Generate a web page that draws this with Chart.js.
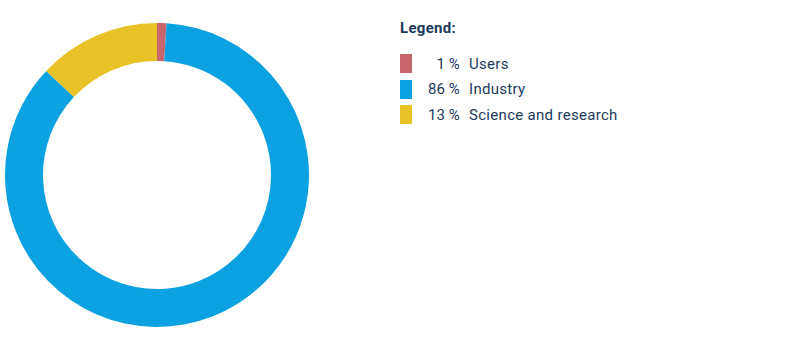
<!DOCTYPE html>
<html>
<head>
<meta charset="utf-8">
<script src="https://cdn.jsdelivr.net/npm/chart.js@4/dist/chart.umd.min.js"></script>
<style>
  html, body { margin: 0; padding: 0; background: #fff; }
  body { width: 801px; height: 351px; position: relative; overflow: hidden; font-family: Roboto, "Noto Sans", sans-serif; color: #1d3a5c; }
  #chartBox { position: absolute; left: 5px; top: 23px; width: 304px; height: 304px; }
  #legend { position: absolute; left: 400px; top: 19px; font-size: 15px; letter-spacing: 0.3px; }
  #legend h4 { margin: 0 0 14px 0; font-size: 15px; font-weight: bold; line-height: 18px; }
  .row { display: flex; align-items: center; height: 25.5px; }
  .sw { width: 12px; height: 19px; }
  .pct { width: 48px; text-align: right; margin-right: 9px; }
</style>
</head>
<body>
<div id="chartBox"><canvas id="donut"></canvas></div>
<div id="legend"><h4>Legend:</h4></div>
<script>
const labels = ["Users", "Industry", "Science and research"];
const shares = [1, 86, 13];
const colors = ["#c8656c", "#0ca1e1", "#e8c226"];

document.addEventListener("DOMContentLoaded", () => {
  // legend on the right
  const legend = document.getElementById("legend");
  labels.forEach((name, i) => {
    const row = document.createElement("div");
    row.className = "row";
    row.innerHTML = `<span class="sw" style="background:${colors[i]}"></span><span class="pct">${shares[i]}\u2009%</span><span>${name}</span>`;
    legend.appendChild(row);
  });

  const ctx = document.getElementById("donut").getContext("2d");
  new Chart(ctx, {
    type: "doughnut",
    data: {
      labels: labels,
      datasets: [{
        data: shares,
        backgroundColor: colors,
        borderWidth: 0
      }]
    },
    options: {
      responsive: true,
      maintainAspectRatio: false,
      animation: false,
      cutout: "75%",
      layout: { padding: 0 },
      plugins: {
        legend: { display: false },
        tooltip: { enabled: false }
      }
    }
  });
});
</script>
</body>
</html>
